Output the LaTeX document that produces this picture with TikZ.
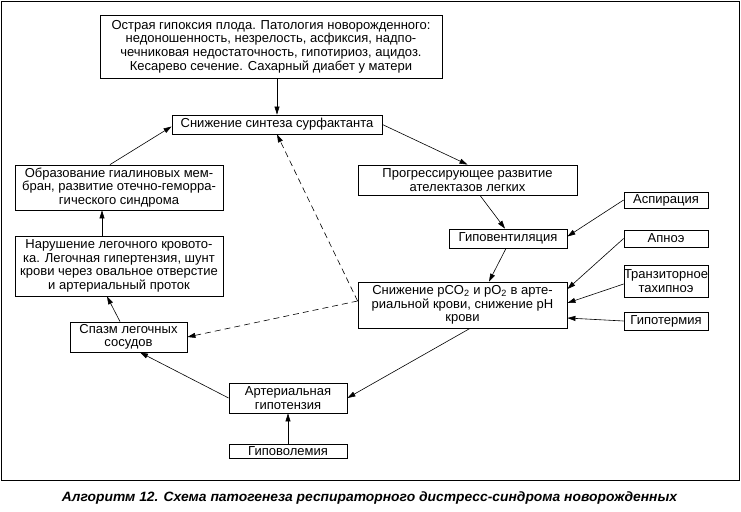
\documentclass[tikz,border=0pt]{standalone}
\usepackage{fontspec}
\setmainfont{Liberation Sans}
\usepackage{graphicx}
\usetikzlibrary{arrows.meta,calc}
\begin{document}
\begin{tikzpicture}[x=1pt,y=-1pt,
  box/.style={draw, line width=0.8pt, inner sep=0pt, align=center, font=\fontsize{13}{13.6}\selectfont},
  arr/.style={-{Triangle[length=8pt,width=5pt]}, line width=0.6pt},
  darr/.style={arr, dash pattern=on 6pt off 4pt}]
\useasboundingbox (0,0) rectangle (741,511);
\draw[line width=1.2pt] (1.5,1.5) rectangle (739.5,480.5);

\node[box, minimum width=342pt, minimum height=63pt] (top) at (271,46.5)
  {Острая гипоксия плода. Патология новорожденного:\\ недоношенность, незрелость, асфиксия, надпо-\\ чечниковая недостаточность, гипотириоз, ацидоз.\\ Кесарево сечение. Сахарный диабет у матери};
\node[box, minimum width=210pt, minimum height=19pt] (surf) at (277,124.5) {Снижение синтеза сурфактанта};
\node[box, minimum width=219pt, minimum height=30pt] (prog) at (467.5,180) {Прогрессирующее развитие\\ ателектазов легких};
\node[box, minimum width=118pt, minimum height=19pt] (hypov) at (508,238.5) {Гиповентиляция};
\node[box, minimum width=209pt, minimum height=46pt] (sniz) at (462.5,305) {Снижение pCO\textsubscript{2} и pO\textsubscript{2} в арте-\\ риальной крови, снижение pH\\ крови};
\node[box, minimum width=84pt, minimum height=16pt] (asp) at (666,200) {Аспирация};
\node[box, minimum width=84pt, minimum height=17pt] (apn) at (666,238.5) {Апноэ};
\node[box, minimum width=84pt, minimum height=32pt] (tach) at (666,281) {Транзиторное\\ тахипноэ};
\node[box, minimum width=84pt, minimum height=18pt] (hyth) at (666,321) {Гипотермия};
\node[box, minimum width=208pt, minimum height=45pt] (obr) at (119,187.5) {Образование гиалиновых мем-\\ бран, развитие отечно-геморра-\\ гического синдрома};
\node[box, minimum width=208pt, minimum height=60pt] (nar) at (119,266) {Нарушение легочного кровото-\\ ка. Легочная гипертензия, шунт\\ крови через овальное отверстие\\ и артериальный проток};
\node[box, minimum width=117pt, minimum height=30pt] (spa) at (128.5,337) {Спазм легочных\\ сосудов};
\node[box, minimum width=118pt, minimum height=30pt] (art) at (288,398) {Артериальная\\ гипотензия};
\node[box, minimum width=118pt, minimum height=14pt] (hvol) at (288,451) {Гиповолемия};

\draw[arr] (surf.north |- top.south) -- (surf.north);
\draw[arr] (surf.east) -- (prog.north);
\draw[arr] ([xshift=12.5pt]prog.south) -- ([xshift=-3pt]hypov.north);
\draw[arr] ([xshift=-2pt]hypov.south) -- ([xshift=26.5pt]sniz.north);
\draw[arr] (asp.west) -- ([yshift=2pt]hypov.east);
\draw[arr] (apn.west) -- ([yshift=16pt]sniz.east);
\draw[arr] ([yshift=-3pt]tach.west) -- ([yshift=2pt]sniz.east);
\draw[arr] (hyth.west) -- ([yshift=-13pt]sniz.east);
\draw[arr] ([xshift=7.5pt]sniz.south) -- (art.east);
\draw[arr] (hvol.north) -- (art.south);
\draw[arr] (art.west) -- ([xshift=11.5pt]spa.south);
\draw[arr] ([xshift=-8.5pt]spa.north) -- ([xshift=-12pt]nar.south);
\draw[arr] ([xshift=-17pt]nar.north) -- ([xshift=-17pt]obr.south);
\draw[arr] ([xshift=-9pt]obr.north) -- ([yshift=-2pt]surf.west);
\draw[darr] ([yshift=4pt]sniz.west) -- (surf.south);
\draw[darr] ([yshift=4pt]sniz.west) -- (spa.east);

\node[font=\fontsize{13.5}{15}\selectfont] (cap) at (369.5,498)
  {\resizebox{615pt}{\height}{\bfseries\itshape Алгоритм 12. Схема патогенеза респираторного дистресс-синдрома новорожденных}};
\end{tikzpicture}
\end{document}
